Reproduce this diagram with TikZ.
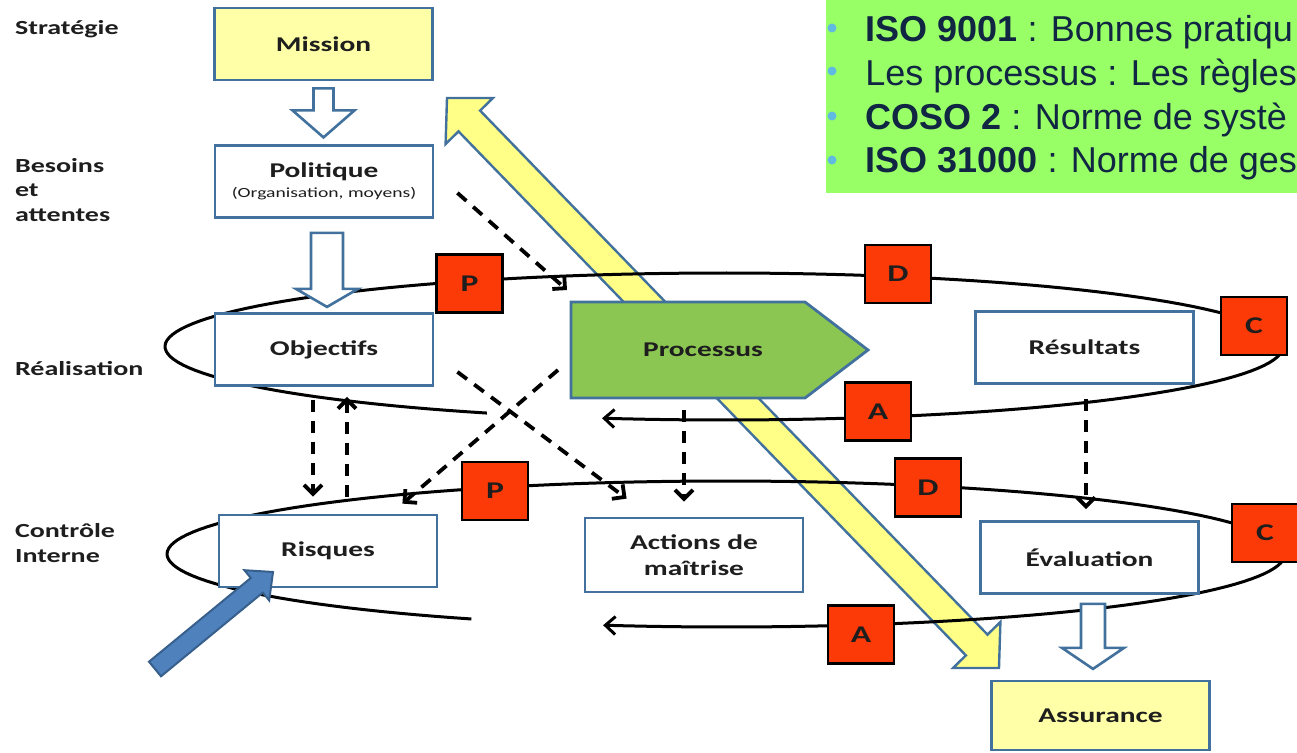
\documentclass[tikz,border=0pt]{standalone}
\usepackage{fontspec}
\setmainfont{Carlito}
\newfontfamily\diagfont[FakeStretch=1.4]{Carlito}
\newfontfamily\notefont{Liberation Sans}
\usepackage{tikz}
\usetikzlibrary{arrows.meta,calc,positioning}

\definecolor{boxblue}{RGB}{65,113,156}
\definecolor{paleyellow}{RGB}{255,255,168}
\definecolor{arrowyellow}{RGB}{255,255,135}
\definecolor{pdcared}{RGB}{252,58,8}
\definecolor{procgreen}{RGB}{140,198,82}
\definecolor{notegreen}{RGB}{153,255,102}
\definecolor{notenavy}{RGB}{16,38,66}
\definecolor{notebullet}{RGB}{95,185,225}
\definecolor{inputblue}{RGB}{79,129,189}
\definecolor{inputedge}{RGB}{55,95,140}
\definecolor{textdark}{RGB}{30,30,30}

\tikzset{
  stepbox/.style={draw=boxblue, line width=1.4pt, fill=white, minimum width=109pt, minimum height=36pt,
    font=\diagfont\bfseries\fontsize{10.5}{13}\selectfont, text=textdark, align=center},
  goalbox/.style={stepbox, fill=paleyellow},
  pdca/.style={draw=black, line width=1.1pt, fill=pdcared, minimum width=33pt, minimum height=29pt,
    font=\diagfont\bfseries\fontsize{12}{14}\selectfont, text=textdark},
  levellabel/.style={align=left, font=\diagfont\bfseries\fontsize{10}{12}\selectfont, text=textdark},
  loopline/.style={line width=1.5pt, -{Straight Barb[length=5pt,width=9pt]}},
  dasharrow/.style={line width=1.9pt, dash pattern=on 6pt off 4.5pt, -{Straight Barb[length=4.5pt,width=9pt]}},
  hollowarrow/.style={draw=boxblue, line width=1.3pt, fill=white},
  noteline/.style={anchor=base west, inner sep=0pt, font=\notefont\fontsize{18}{20}\selectfont, text=notenavy}
}

\begin{document}
\begin{tikzpicture}[x=0.5pt,y=-0.5pt]
\useasboundingbox (0,0) rectangle (1297,753);
\clip (0,0) rectangle (1297,753);

% yellow double arrow (behind everything)
\filldraw[draw=boxblue, line width=1.2pt, fill=arrowyellow]
  (447,98) -- (493,98) -- (480.1,110.6) -- (987.5,634.6) -- (1000.4,622) -- (999,668)
  -- (953,668) -- (965.9,655.4) -- (458.5,131.4) -- (445.6,144) -- cycle;

% the two PDCA loops
\draw[loopline] plot[domain=115.1:462.6, samples=160] ({724+559*cos(\x)},{346.5+73.5*sin(\x)});
\draw[loopline] plot[domain=117.1:462.7, samples=160] ({726+559*cos(\x)},{554+73*sin(\x)});

% boxes
\node[goalbox] (mission) at (323.5,44) {Mission};
\node[stepbox] (politique) at (324,181.5) {Politique\\[-3pt]{\fontsize{7}{8}\selectfont\mdseries (Organisation, moyens)}};
\node[stepbox] (objectifs) at (324,349.5) {Objectifs};
\node[stepbox] (risques) at (328,551) {Risques};
\node[stepbox, minimum height=37pt] (actions) at (694,555) {Actions de\\maîtrise};
\node[stepbox] (resultats) at (1084.5,347.5) {Résultats};
\node[stepbox] (evaluation) at (1089.5,557.5) {Évaluation};
\node[goalbox, minimum height=34.5pt] (assurance) at (1100.5,715.5) {Assurance};

\coordinate (procNW) at (571,302);
\coordinate (procSW) at (571,398);
\filldraw[draw=boxblue, line width=1.4pt, fill=procgreen]
  (procNW) -- (805,302) -- (868,350) -- (805,398) -- (procSW) -- cycle;
\node[font=\diagfont\bfseries\fontsize{10.5}{13}\selectfont, text=textdark] (processus) at (703,350) {Processus};

% hollow arrows
\draw[hollowarrow] ($(mission.south)+(-10,7)$) -- ++(20,0) -- ++(0,22) -- ++(21,0) -- ++(-31,27) -- ++(-31,-27) -- ++(21,0) -- cycle;
\draw[hollowarrow] ($(politique.south)+(-13,14)$) -- ++(32,0) -- ++(0,56) -- ++(15,0) -- ++(-31,18) -- ++(-31,-18) -- ++(15,0) -- cycle;
\draw[hollowarrow] ($(evaluation.south)+(-8.5,9)$) -- ++(24,0) -- ++(0,44) -- ++(19,0) -- ++(-31,21) -- ++(-31,-21) -- ++(19,0) -- cycle;

% dashed links
\draw[dasharrow] ($(politique.south east)+(23,-26)$) -- ($(procNW)+(-4,-12)$);
\draw[dasharrow] ($(objectifs.south east)+(23,-15)$) -- ($(actions.north west)+(43,-18)$);
\draw[dasharrow] ($(procSW)+(-13,-28)$) -- ($(risques.north east)+(-36,-10)$);
\draw[dasharrow] ($(objectifs.south)+(-11,13)$) -- ($(risques.north)+(-15,-17)$);
\draw[dasharrow] ($(risques.north)+(19,-17)$) -- ($(objectifs.south)+(23,10)$);
\draw[dasharrow] ($(procSW)+(113,12)$) -- ($(actions.north)+(-10,-15)$);
\draw[dasharrow] ($(resultats.south)+(1.5,14)$) -- ($(evaluation.north)+(-3.5,-11)$);

% P D C A squares
\node[pdca] (planH) at (469.5,283.5) {P};
\node[pdca] (doH) at (898,274) {D};
\node[pdca] (checkH) at (1254,326) {C};
\node[pdca] (actH) at (878,411.5) {A};
\node[pdca] (planL) at (495,491) {P};
\node[pdca] (doL) at (928,487.5) {D};
\node[pdca] (checkL) at (1265,533) {C};
\node[pdca] (actL) at (861,634.5) {A};

% blue input arrow
\filldraw[draw=inputedge, line width=1pt, fill=inputblue]
  (149,661.7) -- (250.8,578) -- (244.4,570.2) -- (273,572) -- (269.2,600.4) -- (262.8,592.6) -- (161,676.3) -- cycle;

% level labels
\node[levellabel, anchor=base west] (strategie) at (8,35) {Stratégie};
\node[levellabel, anchor=west, font=\diagfont\bfseries\fontsize{10}{12.2}\selectfont] (besoins) at (8,190) {Besoins\\et\\attentes};
\node[levellabel, anchor=base west] (realisation) at (8,376) {Réalisation};
\node[levellabel, anchor=west, font=\diagfont\bfseries\fontsize{10}{12.5}\selectfont] (controle) at (8,543) {Contrôle\\Interne};

% standards note
\fill[notegreen] (826,0) rectangle (1297,193);
\foreach \y in {28,71,116,160}
  \fill[notebullet] (832,\y) circle (4.5);
\node[noteline] (isoqual) at (865,42) {\textbf{ISO 9001} : Bonnes pratiqu};
\node[noteline] (regles) at (865,86) {Les processus : Les règles};
\node[noteline] (coso) at (865,130) {\textbf{COSO 2} : Norme de systè};
\node[noteline] (isorisk) at (865,173) {\textbf{ISO 31000} : Norme de ges};
\end{tikzpicture}
\end{document}
